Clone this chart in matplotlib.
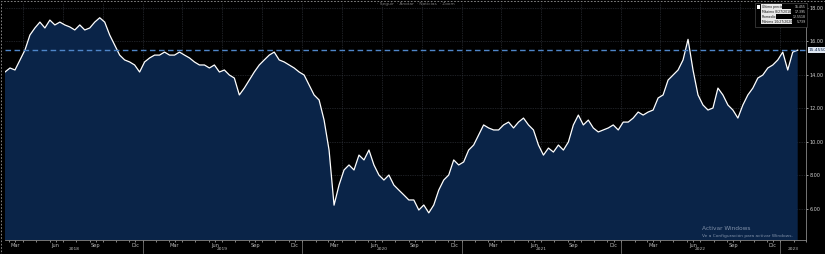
import matplotlib
matplotlib.use("Agg")
import matplotlib.pyplot as plt
import matplotlib.dates as mdates
import matplotlib.patches as mpatches
import pandas as pd

# price readings, Feb 2018 -> Feb 2023 (roughly every 11-12 days)
start_date = "2018-02-19"
end_date = "2023-02-10"
prices = [
    14.15, 14.39, 14.27, 14.87, 15.46, 16.36, 16.78, 17.13, 16.78, 17.25,
    16.96, 17.13, 16.96, 16.84, 16.66, 16.96, 16.66, 16.78, 17.13, 17.39,
    17.13, 16.36, 15.76, 15.16, 14.87, 14.75, 14.57, 14.15, 14.75, 14.99,
    15.16, 15.16, 15.34, 15.16, 15.16, 15.34, 15.16, 14.99, 14.75, 14.57,
    14.57, 14.39, 14.57, 14.15, 14.27, 13.97, 13.79, 12.78, 13.19, 13.67,
    14.15, 14.57, 14.87, 15.16, 15.34, 14.87, 14.75, 14.57, 14.39, 14.15,
    13.97, 13.37, 12.78, 12.48, 11.28, 9.49, 6.20, 7.40, 8.30, 8.60,
    8.30, 9.19, 8.90, 9.49, 8.60, 8.00, 7.70, 8.00, 7.40, 7.10,
    6.81, 6.51, 6.51, 5.91, 6.21, 5.74, 6.21, 7.10, 7.70, 8.00,
    8.90, 8.60, 8.78, 9.49, 9.79, 10.39, 10.99, 10.81, 10.69, 10.69,
    10.99, 11.16, 10.81, 11.16, 11.40, 10.99, 10.69, 9.79, 9.19, 9.61,
    9.37, 9.79, 9.49, 9.97, 10.99, 11.58, 10.99, 11.28, 10.81, 10.57,
    10.69, 10.81, 10.99, 10.69, 11.16, 11.16, 11.40, 11.76, 11.58, 11.76,
    11.88, 12.60, 12.78, 13.67, 13.97, 14.27, 14.87, 16.10, 14.27, 12.78,
    12.18, 11.88, 12.00, 13.19, 12.78, 12.18, 11.88, 11.40, 12.18, 12.78,
    13.19, 13.79, 13.97, 14.39, 14.57, 14.87, 15.34, 14.27, 15.34, 15.455,
]
yticks = [6, 8, 10, 12, 14, 16, 18]
month_names = {3: "Mar", 6: "Jun", 9: "Sep", 12: "Dic"}
years = [2018, 2019, 2020, 2021, 2022, 2023]

legend_labels = ["Último precio", "Máximo 8/27/2018", "Promedio", "Mínimo 10/27/2020"]
legend_values = ["15.455", "17.395", "12.5518", "5.739"]
last_price = 15.455

dates = pd.date_range(start_date, end_date, periods=len(prices))

W, H = 825, 254
fig = plt.figure(figsize=(W / 100, H / 100), dpi=100, facecolor="black")
ax = fig.add_axes([5 / W, 1 - 240 / H, 801 / W, 237 / H], facecolor="black")

ax.fill_between(dates, prices, 0, color="#0a2448", lw=0)
ax.plot(dates, prices, color="white", lw=0.9)
ax.axhline(last_price, color="#4f86c9", lw=1.0, ls=(0, (4, 2.5)))

x0 = pd.Timestamp("2017-12-31") + pd.Timedelta(days=50)
x1 = pd.Timestamp("2023-01-01") + pd.Timedelta(days=59)
ax.set_xlim(x0, x1)
ax.set_ylim(4.12, 18.27)

# grid
for d in pd.date_range("2018-01-01", "2023-03-01", freq="QS"):
    ax.axvline(d, color="#3a3f48", lw=0.5, ls=(0, (1, 1.5)), zorder=0.5)
for v in yticks:
    ax.axhline(v, color="#3a3f48", lw=0.5, ls=(0, (1, 1.5)), zorder=0.5)

ax.yaxis.tick_right()
ax.set_yticks(yticks)
ax.set_yticklabels([f"{v:.2f}" for v in yticks])
ax.tick_params(axis="y", colors="#d0d0d0", labelsize=3.5, length=1.5, width=0.5, pad=1.2)

mid_months = [pd.Timestamp(year=y, month=m, day=15) for y in range(2018, 2024)
              for m in (3, 6, 9, 12) if pd.Timestamp(year=y, month=m, day=15) < x1]
ax.set_xticks(mid_months)
ax.set_xticklabels([month_names[d.month] for d in mid_months])
ax.xaxis.set_minor_locator(mdates.MonthLocator())
ax.tick_params(axis="x", which="both", colors="#bbbbbb", labelsize=3.6,
               length=1.5, width=0.5, pad=0.8)

for s in ["top", "left"]:
    ax.spines[s].set_visible(False)
ax.spines["bottom"].set_color("#888888")
ax.spines["bottom"].set_linewidth(0.6)
ax.spines["right"].set_color("#888888")
ax.spines["right"].set_linewidth(0.6)

# year labels centred in the visible part of each year
for y in years:
    a = max(pd.Timestamp(year=y, month=1, day=1), x0)
    b = min(pd.Timestamp(year=y + 1, month=1, day=1), x1)
    c = a + (b - a) / 2
    ax.text(c, -9.5 / 237, str(y), transform=ax.get_xaxis_transform(), ha="center",
            va="center", color="#bbbbbb", fontsize=3.2)
    if y > 2018:
        ax.plot([pd.Timestamp(year=y, month=1, day=1)] * 2, [-0.005, -0.055],
                transform=ax.get_xaxis_transform(), color="#888888", lw=0.5,
                clip_on=False)

# last price box on axis
ax.text(1.003, last_price, "15.4550", transform=ax.get_yaxis_transform(),
        ha="left", va="center", fontsize=3.1, color="#0a2346",
        bbox=dict(boxstyle="square,pad=0.2", fc="#dfe7f2", ec="none"))

# legend box (top right)
fig.patches.append(mpatches.Rectangle((755 / W, 1 - 27 / H), 52 / W, 24 / H,
                   transform=fig.transFigure, fc="black", ec="#555555", lw=0.4))
fig.patches.append(mpatches.Rectangle((757 / W, 1 - 8.5 / H), 3 / W, 3.5 / H,
                   transform=fig.transFigure, fc="white", ec="none"))
for i, (lab, val) in enumerate(zip(legend_labels, legend_values)):
    yy = 1 - (6.8 + i * 5) / H
    fig.text(761.5 / W, yy, lab, fontsize=2.25, color="#0a0a0a", va="center", ha="left",
             bbox=dict(boxstyle="square,pad=0.1", fc="#e8e8e8", ec="none"))
    fig.text(806 / W, yy, val, fontsize=2.25, color="#e0e0e0", va="center", ha="right")

# top toolbar text
fig.text(416 / W, 1 - 4 / H, "· Seguir  · Anotar  · Noticias  · Zoom", fontsize=3.2,
         color="#777777", ha="center", va="center")

# windows watermark
fig.text(702 / W, 1 - 229 / H, "Activar Windows", fontsize=4.2, color="#8090a8",
         ha="left", va="center")
fig.text(702 / W, 1 - 236 / H, "Ve a Configuración para activar Windows.", fontsize=3.2,
         color="#8090a8", ha="left", va="center")

# dashed screen border
fig.patches.append(mpatches.Rectangle((0.5 / W, 0.5 / H), (W - 1) / W, (H - 1) / H,
                   transform=fig.transFigure, fill=False, ec="#999999", lw=0.6,
                   ls=(0, (2, 2))))

fig.savefig("out.png", dpi=100, facecolor="black")
